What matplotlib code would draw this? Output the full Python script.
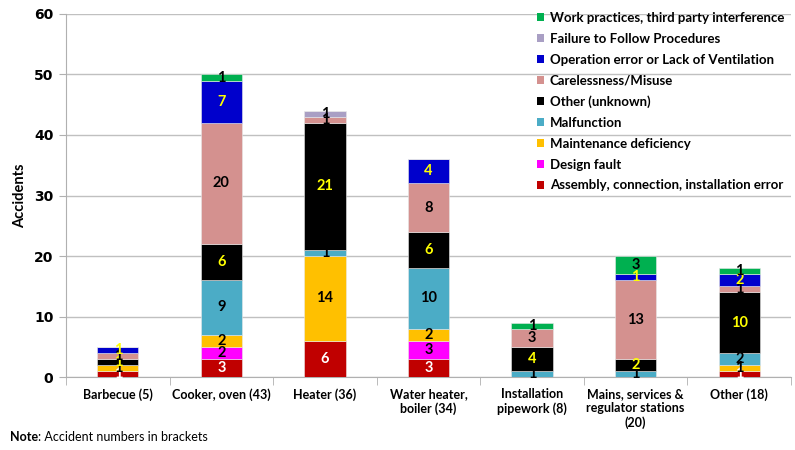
import numpy as np
import matplotlib
matplotlib.use('Agg')
import matplotlib.pyplot as plt
from matplotlib.patches import Patch
from matplotlib import rcParams

rcParams.update({'font.family': ['Lato', 'DejaVu Sans']})

categories = ['Barbecue (5)', 'Cooker, oven (43)', 'Heater (36)',
              'Water heater,\nboiler (34)', 'Installation\npipework (8)',
              'Mains, services &\nregulator stations\n(20)', 'Other (18)']

# causes, stacked bottom to top
assembly     = [1, 3, 6, 3, 0, 0, 1]
design       = [0, 2, 0, 3, 0, 0, 0]
maintenance  = [1, 2, 14, 2, 0, 0, 1]
malfunction  = [0, 9, 1, 10, 1, 1, 2]
other        = [1, 6, 21, 6, 4, 2, 10]
carelessness = [1, 20, 1, 8, 3, 13, 1]
operation    = [1, 7, 0, 4, 0, 1, 2]
failure      = [0, 0, 1, 0, 0, 0, 0]
work         = [0, 1, 0, 0, 1, 3, 1]

series = [
    ('Assembly, connection, installation error', assembly, '#C00000', 'white'),
    ('Design fault', design, '#FF00FF', 'black'),
    ('Maintenance deficiency', maintenance, '#FFC000', 'black'),
    ('Malfunction', malfunction, '#4BACC6', 'black'),
    ('Other (unknown)', other, '#000000', '#FFFF00'),
    ('Carelessness/Misuse', carelessness, '#D4918F', 'black'),
    ('Operation error or Lack of Ventilation', operation, '#0000CC', '#FFFF00'),
    ('Failure to Follow Procedures', failure, '#A99FC4', 'black'),
    ('Work practices, third party interference', work, '#00B050', 'black'),
]

fig = plt.figure(figsize=(7.95, 4.5), dpi=100)
ax = fig.add_axes([0.083, 0.162, 0.912, 0.807])

x = np.arange(len(categories))
bottom = np.zeros(len(categories))
handles = []
for name, vals, col, tcol in series:
    vals = np.array(vals, dtype=float)
    ax.bar(x, vals, 0.4, bottom=bottom, color=col, edgecolor='#e8e8e8',
           linewidth=0.4, zorder=3)
    for xi, v, b in zip(x, vals, bottom):
        if v > 0:
            ax.text(xi, b + v / 2, '%d' % v, ha='center', va='center',
                    color=tcol, fontsize=10.5, fontweight='bold', zorder=4)
    bottom += vals
    handles.append(Patch(facecolor=col, label=name))

ax.set_xlim(-0.5, len(categories) - 0.5)
ax.set_ylim(0, 60)
ax.set_yticks(range(0, 61, 10))
ax.set_yticklabels([str(v) for v in range(0, 61, 10)],
                   fontfamily='DejaVu Sans', fontweight='bold', fontsize=10)
ax.grid(axis='y', color='#c0c0c0', linewidth=1, zorder=0)
ax.set_axisbelow(True)

# category names centred, short ticks between categories
ax.set_xticks(x)
ax.set_xticklabels(categories, fontsize=9, fontweight='bold', va='top')
ax.tick_params(axis='x', which='major', length=0, pad=8)
ax.set_xticks(np.arange(-0.5, len(categories)), minor=True)
ax.tick_params(axis='x', which='minor', length=6, color='#b0b0b0')
ax.tick_params(axis='y', length=5, color='#b0b0b0', pad=4)

for s in ['top', 'right']:
    ax.spines[s].set_visible(False)
ax.spines['left'].set_color('#b0b0b0')
ax.spines['bottom'].set_color('#b0b0b0')

ax.set_ylabel('Accidents', fontsize=10.5, fontweight='bold', labelpad=5)

leg = ax.legend(handles=handles[::-1], loc='upper left',
                bbox_to_anchor=(0.642, 1.02), frameon=False, fontsize=9.5,
                handlelength=0.55, handleheight=0.55, handletextpad=0.45,
                labelspacing=0.67, borderaxespad=0)
for t in leg.get_texts():
    t.set_fontweight('bold')

note = fig.text(0.012, 0.02, 'Note', fontsize=9, fontweight='bold')
ax.annotate(': Accident numbers in brackets', xy=(1, 0), xycoords=note,
            va='bottom', ha='left', fontsize=9)

fig.savefig('out.png', dpi=100)
